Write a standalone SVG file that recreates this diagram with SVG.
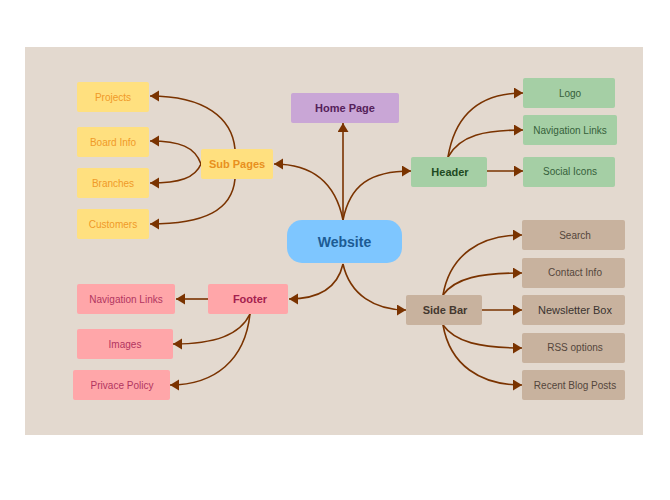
<svg xmlns="http://www.w3.org/2000/svg" width="670" height="500" viewBox="0 0 670 500">
<style>
text{font-family:"Liberation Sans",Arial,sans-serif;text-anchor:middle;dominant-baseline:central}
.leaf{font-size:10px}
.mid{font-size:11px;font-weight:bold}
.y rect{fill:#ffe07f}.y text{fill:#f09a28}
.g rect{fill:#a5cfa5}.g text{fill:#35603a}
.t rect{fill:#c8b29e}.t text{fill:#54463c}
.p rect{fill:#ffa6a9}.p text{fill:#b23560}
.c path{fill:none;stroke:#7a3300;stroke-width:1.6;marker-end:url(#ah)}
</style>
<defs>
<marker id="ah" markerUnits="userSpaceOnUse" markerWidth="11" markerHeight="12" refX="9" refY="5.5" orient="auto">
<path d="M0,0 L9,5.5 L0,11 z" fill="#7a3300"/>
</marker>
</defs>
<rect x="25" y="47" width="618" height="388" fill="#e3d9cf"/>
<g class="c" id="connectors">
<path d="M235,149 C232,118 205,96 150,96"/>
<path d="M201,164 C195,147 180,141 150,141"/>
<path d="M201,164 C195,178 180,183 150,183"/>
<path d="M235,179 C232,210 205,224 150,224"/>
<path d="M343,220 C335,180 310,164 274,164"/>
<path d="M343,220 L343,123"/>
<path d="M343,220 C350,185 370,171 411,171"/>
<path d="M448,157 C455,115 480,93 523,93"/>
<path d="M448,157 C460,135 485,130 523,130"/>
<path d="M486,171 L523,171"/>
<path d="M343,264 C337,290 315,299 289,299"/>
<path d="M343,264 C350,295 375,310 406,310"/>
<path d="M443,295 C450,255 480,235 522,235"/>
<path d="M443,295 C455,278 480,273 522,273"/>
<path d="M481,310 L522,310"/>
<path d="M443,325 C455,342 480,348 522,348"/>
<path d="M443,325 C450,365 480,385 522,385"/>
<path d="M208,299 L176,299"/>
<path d="M250,314 C240,335 215,344 173,344"/>
<path d="M250,314 C245,360 215,385 170,385"/>
</g>
<g id="website"><rect x="287" y="220" width="115" height="43" rx="15" fill="#7ec6ff"/><text x="344.5" y="241.5" style="font-size:14px;font-weight:bold;fill:#1c5b94">Website</text></g>
<g id="homepage"><rect x="291" y="93" width="108" height="30" rx="2" fill="#c9a6d6"/><text class="mid" x="345" y="108" style="fill:#55215a">Home Page</text></g>
<g id="subpages" class="y"><rect x="201" y="149" width="72" height="30" rx="2"/><text class="mid" x="237" y="164" style="fill:#e8901e">Sub Pages</text></g>
<g id="projects" class="y"><rect x="77" y="82" width="72" height="30" rx="2"/><text class="leaf" x="113" y="97">Projects</text></g>
<g id="boardinfo" class="y"><rect x="77" y="127" width="72" height="30" rx="2"/><text class="leaf" x="113" y="142">Board Info</text></g>
<g id="branches" class="y"><rect x="77" y="168" width="72" height="30" rx="2"/><text class="leaf" x="113" y="183">Branches</text></g>
<g id="customers" class="y"><rect x="77" y="209" width="72" height="30" rx="2"/><text class="leaf" x="113" y="224">Customers</text></g>
<g id="header" class="g"><rect x="411" y="157" width="76" height="30" rx="2"/><text class="mid" x="450" y="172" style="fill:#1e4a22">Header</text></g>
<g id="logo" class="g"><rect x="523" y="78" width="92" height="30" rx="2"/><text class="leaf" x="570" y="93">Logo</text></g>
<g id="navlinks-h" class="g"><rect x="523" y="115" width="94" height="30" rx="2"/><text class="leaf" x="570" y="130">Navigation Links</text></g>
<g id="social" class="g"><rect x="523" y="157" width="92" height="30" rx="2"/><text class="leaf" x="570" y="171">Social Icons</text></g>
<g id="sidebar" class="t"><rect x="406" y="295" width="76" height="30" rx="2"/><text class="mid" x="445" y="310" style="fill:#44382f">Side Bar</text></g>
<g id="search" class="t"><rect x="522" y="220" width="103" height="30" rx="2"/><text class="leaf" x="575" y="235">Search</text></g>
<g id="contact" class="t"><rect x="522" y="258" width="103" height="30" rx="2"/><text class="leaf" x="575" y="272">Contact Info</text></g>
<g id="newsletter" class="t"><rect x="522" y="295" width="103" height="30" rx="2"/><text x="575" y="310" style="font-size:11px;fill:#3a3430">Newsletter Box</text></g>
<g id="rss" class="t"><rect x="522" y="333" width="103" height="30" rx="2"/><text class="leaf" x="575" y="347">RSS options</text></g>
<g id="recent" class="t"><rect x="522" y="370" width="103" height="30" rx="2"/><text class="leaf" x="575" y="385">Recent Blog Posts</text></g>
<g id="footer" class="p"><rect x="208" y="284" width="80" height="30" rx="2"/><text class="mid" x="250" y="299" style="fill:#a5204e">Footer</text></g>
<g id="navlinks-f" class="p"><rect x="77" y="284" width="98" height="30" rx="2"/><text class="leaf" x="126" y="299">Navigation Links</text></g>
<g id="images" class="p"><rect x="77" y="329" width="96" height="30" rx="2"/><text class="leaf" x="125" y="344">Images</text></g>
<g id="privacy" class="p"><rect x="73" y="370" width="97" height="30" rx="2"/><text class="leaf" x="122" y="385">Privace Policy</text></g>
</svg>
